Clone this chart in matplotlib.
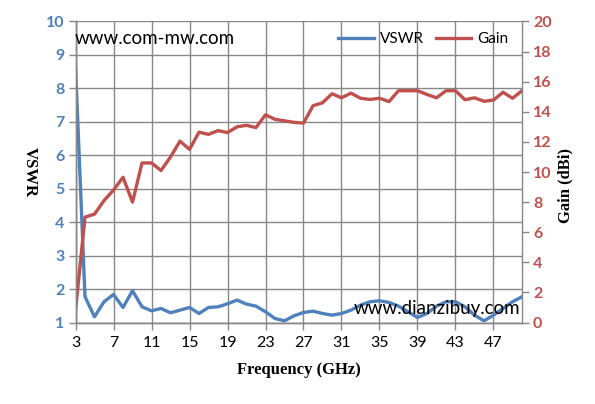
import matplotlib
matplotlib.use("Agg")
import matplotlib.pyplot as plt
import numpy as np

freq = list(range(3, 51))
vswr = [8.65, 1.77, 1.17, 1.62, 1.84, 1.45, 1.95, 1.47, 1.35, 1.42,
        1.29, 1.37, 1.45, 1.27, 1.45, 1.47, 1.56, 1.67, 1.55, 1.49,
        1.32, 1.12, 1.05, 1.2, 1.3, 1.34, 1.27, 1.22, 1.27, 1.37,
        1.52, 1.62, 1.65, 1.6, 1.49, 1.32, 1.15, 1.27, 1.49, 1.62,
        1.62, 1.47, 1.22, 1.05, 1.22, 1.42, 1.62, 1.77]
gain = [0.8, 7.0, 7.2, 8.1, 8.8, 9.65, 8.0, 10.6, 10.6, 10.1,
        11.0, 12.05, 11.5, 12.65, 12.5, 12.75, 12.62, 13.0, 13.1, 12.95,
        13.8, 13.5, 13.4, 13.3, 13.25, 14.4, 14.6, 15.2, 14.93, 15.24,
        14.9, 14.82, 14.9, 14.68, 15.4, 15.4, 15.4, 15.15, 14.93, 15.4,
        15.4, 14.8, 14.93, 14.7, 14.78, 15.3, 14.9, 15.4]
xticks = list(range(3, 51, 4))
vswr_ticks = list(range(1, 11))
gain_ticks = list(range(0, 21, 2))

BLUE = "#4F81BD"
RED = "#C0504D"
GRID = "#878787"

fig = plt.figure(figsize=(5.95, 4.04), dpi=100)
ax = fig.add_axes([0.1269, 0.2017, 0.8773 - 0.1269, 0.9468 - 0.2017])
ax2 = ax.twinx()

l1, = ax.plot(freq, vswr, color=BLUE, lw=2.4, label="VSWR", solid_joinstyle="round")
l2, = ax2.plot(freq, gain, color=RED, lw=2.4, label="Gain", solid_joinstyle="round")

ax.set_xlim(3, 50)
ax.set_ylim(1, 10)
ax2.set_ylim(0, 20)
ax.set_xticks(xticks)
ax.set_yticks(vswr_ticks)
ax2.set_yticks(gain_ticks)

ax.grid(True, color=GRID, lw=1)
ax.set_axisbelow(True)

ax.spines["top"].set_visible(False)
ax2.spines["top"].set_visible(False)
for a in (ax, ax2):
    for s in ["left", "bottom", "right"]:
        a.spines[s].set_color(GRID)
        a.spines[s].set_linewidth(1)
ax.spines["right"].set_visible(False)

ax.tick_params(axis="x", colors=GRID, length=5, width=1, labelcolor="black", labelsize=11.5, pad=5)
ax.tick_params(axis="y", colors=GRID, length=5, width=1, labelcolor=BLUE, labelsize=11.5, pad=3)
ax2.tick_params(axis="y", colors=GRID, length=5, width=1, labelcolor=RED, labelsize=11.5, pad=3)
for lab in ax.get_yticklabels():
    lab.set_fontweight("bold"); lab.set_family("Lato")
for lab in ax2.get_yticklabels():
    lab.set_fontweight("bold"); lab.set_family("Lato")
for lab in ax.get_xticklabels():
    lab.set_family("Lato")

lab_font = dict(family="Liberation Serif", fontsize=12, color="black", fontweight="bold")
ax.set_xlabel("Frequency (GHz)", labelpad=8, **lab_font)
fig.text(0.05, 0.575, "VSWR", rotation=270, ha="center", va="center", **lab_font)
fig.text(0.95, 0.54, "Gain (dBi)", rotation=90, ha="center", va="center", **lab_font)

leg = ax2.legend(handles=[l1, l2], loc="upper right", ncol=2, frameon=False,
                 prop=dict(family="Lato", size=11), handlelength=2.3,
                 columnspacing=0.8, handletextpad=0.4, bbox_to_anchor=(1.0, 1.01))

fig.text(0.126, 0.905, "www.com-mw.com", family="Lato", fontsize=13.5,
         ha="left", va="center", color="black")
fig.text(0.595, 0.237, "www.dianzibuy.com", family="Lato", fontsize=13.5,
         ha="left", va="center", color="black")

fig.savefig("out.png", dpi=100)
